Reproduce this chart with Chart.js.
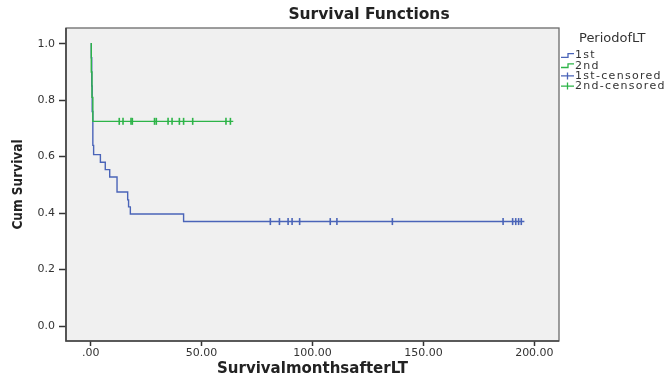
<!DOCTYPE html>
<html>
<head>
<meta charset="utf-8">
<script src="https://cdn.jsdelivr.net/npm/chart.js@4.4.1/dist/chart.umd.min.js"></script>
<style>
  body { margin: 0; background: #fff; }
  #wrap { width: 670px; height: 378px; }
</style>
</head>
<body>
<div id="wrap"><canvas id="survivalGraf" width="670" height="378"></canvas></div>
<script>
// Data (Kaplan-Meier steps, months after LT)
var firstTimes = [0, 0.3, 0.5, 0.7, 1.0, 1.35, 4.4, 6.6, 8.6, 11.9, 16.7, 17.1, 17.9, 41.9, 195.5];
var firstSurv = [1.0, 0.95, 0.85, 0.76, 0.64, 0.607, 0.58, 0.554, 0.528, 0.475, 0.447, 0.422, 0.397, 0.37, 0.37];
var secondTimes = [0, 0.3, 0.6, 1.0, 64.3];
var secondSurv = [1.0, 0.9, 0.81, 0.725, 0.725];

var firstCensored = [81.0, 85.1, 89.0, 90.8, 94.2, 108.0, 111.0, 136.0, 185.9, 190.2, 191.6, 192.9, 194.1];
var firstCensoredLevel = 0.37;
var secondCensored = [12.9, 14.6, 18.2, 18.8, 28.8, 29.6, 34.9, 36.7, 40.0, 41.9, 46.0, 61.0, 63.0];
var secondCensoredLevel = 0.725;

var seriesLabels = ["1st", "2nd", "1st-censored", "2nd-censored"];
var xTicks = [0, 50, 100, 150, 200];
var xTickLabels = [".00", "50.00", "100.00", "150.00", "200.00"];
var yTicks = [0, 0.2, 0.4, 0.6, 0.8, 1.0];
var yTickLabels = ["0.0", "0.2", "0.4", "0.6", "0.8", "1.0"];

var blue = "#4a64b8";
var green = "#2db448";

function toPoints(xs, ys) {
  return xs.map((x, i) => ({ x: x, y: ys[i] }));
}

// baggrund, ramme, titel og legend
var spssLook = {
  id: "spssLook",
  beforeDatasetsDraw(chart) {
    var a = chart.chartArea;
    var ctx = chart.ctx;
    ctx.save();
    ctx.fillStyle = "#f0f0f0";
    ctx.fillRect(a.left, a.top, a.right - a.left, a.bottom - a.top);
    ctx.restore();
  },
  afterDatasetsDraw(chart) {
    var a = chart.chartArea;
    var ctx = chart.ctx;
    ctx.save();
    ctx.strokeStyle = "#6a6a6a";
    ctx.lineWidth = 1.3;
    ctx.strokeRect(a.left, a.top, a.right - a.left, a.bottom - a.top);
    // axes a bit darker
    ctx.strokeStyle = "#444";
    ctx.lineWidth = 1.6;
    ctx.beginPath();
    ctx.moveTo(a.left, a.top);
    ctx.lineTo(a.left, a.bottom);
    ctx.lineTo(a.right, a.bottom);
    ctx.stroke();
    ctx.restore();
  },
  afterDraw(chart) {
    var ctx = chart.ctx;
    ctx.save();
    ctx.fillStyle = "#222";
    ctx.font = "bold 15.5px 'DejaVu Sans'";
    ctx.textAlign = "center";
    ctx.textBaseline = "middle";
    ctx.fillText("Survival Functions", 369, 15);

    // legend
    ctx.textAlign = "left";
    ctx.fillStyle = "#333";
    ctx.font = "13px 'DejaVu Sans'";
    ctx.fillText("PeriodofLT", 579, 39);
    ctx.font = "11px 'DejaVu Sans'";
    ctx.letterSpacing = "1.3px";
    var x0 = 561, x1 = 574;
    var items = [0, 1, 2, 3];
    items.forEach((i) => {
      var ds = chart.data.datasets.find((d) => d.label === seriesLabels[i]);
      var y = 55.5 + i * 10.2;
      ctx.strokeStyle = ds.borderColor;
      ctx.lineWidth = 1.3;
      ctx.beginPath();
      if (i < 2) {
        ctx.moveTo(x0, y + 1.8);
        ctx.lineTo(x0 + 7, y + 1.8);
        ctx.lineTo(x0 + 7, y - 1.8);
        ctx.lineTo(x1, y - 1.8);
      } else {
        ctx.moveTo(x0, y);
        ctx.lineTo(x1, y);
        ctx.moveTo(x0 + 6.5, y - 3.5);
        ctx.lineTo(x0 + 6.5, y + 3.5);
      }
      ctx.stroke();
      ctx.fillStyle = "#333";
      ctx.fillText(ds.label, x1 + 1, y);
    });
    ctx.restore();
  },
};

var ctxSurvival = document.getElementById("survivalGraf").getContext("2d");

var survivalGraf = new Chart(ctxSurvival, {
  type: "line",
  data: {
    datasets: [
      {
        label: seriesLabels[0],
        data: toPoints(firstTimes, firstSurv),
        borderColor: blue,
        borderWidth: 1.4,
        stepped: true,
        pointRadius: 0,
        fill: false,
        order: 3,
      },
      {
        label: seriesLabels[1],
        data: toPoints(secondTimes, secondSurv),
        borderColor: green,
        borderWidth: 1.4,
        stepped: true,
        pointRadius: 0,
        fill: false,
        order: 2,
      },
      {
        label: seriesLabels[2],
        data: firstCensored.map((t) => ({ x: t, y: firstCensoredLevel })),
        borderColor: blue,
        showLine: false,
        pointStyle: "line",
        rotation: 90,
        pointRadius: 3.5,
        pointBorderWidth: 1.6,
        order: 1,
      },
      {
        label: seriesLabels[3],
        data: secondCensored.map((t) => ({ x: t, y: secondCensoredLevel })),
        borderColor: green,
        showLine: false,
        pointStyle: "line",
        rotation: 90,
        pointRadius: 3.5,
        pointBorderWidth: 1.6,
        order: 0,
      },
    ],
  },
  options: {
    responsive: false,
    animation: false,
    layout: {
      padding: { left: 0, right: 111, top: 28, bottom: 0 },
    },
    plugins: {
      legend: { display: false },
      title: { display: false },
      tooltip: { enabled: false },
    },
    scales: {
      x: {
        type: "linear",
        min: -11.1,
        max: 211.1,
        afterFit: (s) => { s.height = 37; },
        afterBuildTicks: (s) => { s.ticks = xTicks.map((v) => ({ value: v })); },
        ticks: {
          callback: (v) => xTickLabels[xTicks.indexOf(v)],
          font: { family: "'DejaVu Sans'", size: 11 },
          color: "#333",
          padding: 1,
          maxRotation: 0,
        },
        grid: {
          drawOnChartArea: false,
          tickLength: 5,
          tickColor: "#333",
          tickWidth: 1.5,
        },
        border: { display: false },
        title: {
          display: true,
          text: "SurvivalmonthsafterLT",
          font: { family: "'DejaVu Sans'", size: 15, weight: "bold" },
          color: "#222",
          padding: { top: 0, bottom: 0 },
        },
      },
      y: {
        type: "linear",
        min: -0.053,
        max: 1.0556,
        afterFit: (s) => { s.width = 66; },
        afterBuildTicks: (s) => { s.ticks = yTicks.map((v) => ({ value: v })); },
        ticks: {
          callback: (v) => yTickLabels[yTicks.indexOf(v)],
          font: { family: "'DejaVu Sans'", size: 11 },
          color: "#333",
          padding: 4,
        },
        grid: {
          drawOnChartArea: false,
          tickLength: 7,
          tickColor: "#333",
          tickWidth: 1.5,
        },
        border: { display: false },
        title: {
          display: true,
          text: "Cum Survival",
          font: { family: "'Liberation Sans Narrow', 'DejaVu Sans Condensed', sans-serif", size: 13.5, weight: "bold" },
          color: "#222",
          padding: { top: 10, bottom: 0 },
        },
      },
    },
  },
  plugins: [spssLook],
});
</script>
</body>
</html>
